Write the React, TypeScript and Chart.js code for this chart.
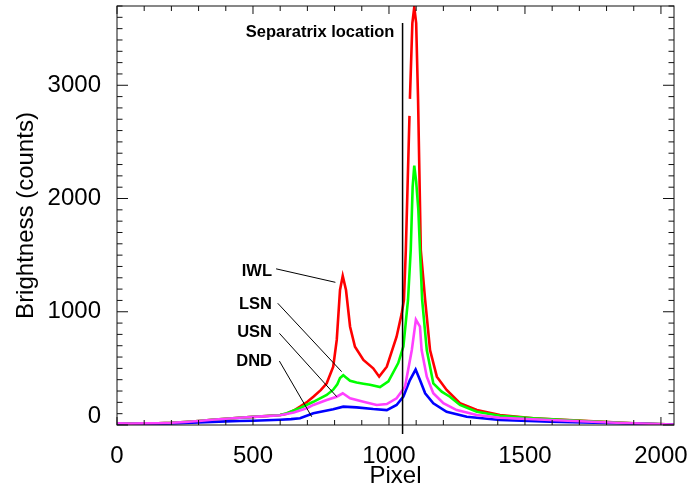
import { useEffect, useRef } from 'react';
import { Chart, registerables } from 'chart.js';

Chart.register(...registerables);

const FONT = '"Liberation Sans", Arial, Helvetica, sans-serif';

// ---- axes ----
const X_MIN = 0;
const X_MAX = 2048;
const Y_MIN = 0;
const Y_MAX = 3700;
const X_MAJOR = 500;
const X_MINOR = 100;
const Y_MAJOR = 1000;
const Y_MINOR = 100;
const xTickValues = [0, 500, 1000, 1500, 2000];
const yTickValues = [0, 1000, 2000, 3000];

// ---- series: IWL (red) ----
const iwlPixels = [0, 50, 100, 150, 200, 250, 300, 350, 400, 450, 500, 550, 600, 624, 650, 673, 700, 722, 750, 771, 795, 808, 820, 830, 842, 857, 875, 906, 942, 964, 992, 1028, 1047, 1055, 1062, 1075.4, 1076.2, 1077, 1086, 1093, 1100, 1107, 1117, 1133, 1151, 1176, 1212, 1261, 1323, 1408, 1531, 1715, 1898, 2048];
const iwlCounts = [15, 12, 14, 16, 20, 27, 36, 46, 55, 64, 72, 80, 88, 100, 128, 162, 205, 250, 310, 368, 515, 751, 1192, 1316, 1192, 868, 691, 574, 501, 427, 515, 780, 986, 1104, 1545, 2730, null, 2880, 3550, 3690, 3550, 2870, 1545, 1104, 662, 427, 309, 192, 132, 88, 59, 38, 15, 5];

// ---- series: LSN (green) ----
const lsnPixels = [0, 50, 100, 150, 200, 250, 300, 350, 400, 450, 500, 550, 600, 624, 673, 722, 771, 795, 810, 820, 832, 842, 857, 881, 906, 930, 967, 998, 1034, 1053, 1070, 1080, 1087, 1093, 1100, 1108, 1114, 1122, 1139, 1163, 1194, 1224, 1261, 1323, 1408, 1531, 1715, 1898, 2048];
const lsnCounts = [15, 12, 14, 16, 20, 27, 36, 46, 55, 64, 72, 80, 88, 104, 150, 205, 265, 312, 360, 415, 440, 420, 390, 375, 365, 355, 335, 385, 547, 694, 1104, 1545, 2100, 2290, 2150, 1900, 1545, 1104, 662, 368, 294, 250, 177, 117, 82, 59, 36, 14, 5];

// ---- series: USN (magenta) ----
const usnPixels = [0, 50, 100, 150, 200, 250, 300, 350, 400, 450, 500, 550, 600, 650, 700, 722, 771, 808, 830, 857, 906, 955, 992, 1028, 1059, 1084, 1099, 1114, 1120, 1139, 1163, 1200, 1249, 1323, 1408, 1592, 1837, 2048];
const usnCounts = [15, 12, 14, 16, 20, 27, 36, 46, 55, 64, 72, 78, 86, 110, 150, 177, 221, 250, 280, 236, 206, 177, 185, 236, 338, 662, 930, 868, 662, 427, 280, 192, 132, 88, 64, 44, 20, 5];

// ---- series: DND (blue) ----
const dndPixels = [0, 50, 100, 150, 200, 250, 300, 350, 400, 450, 500, 550, 600, 640, 673, 722, 795, 832, 881, 942, 992, 1028, 1053, 1077, 1098, 1114, 1133, 1163, 1212, 1286, 1408, 1592, 1837, 2048];
const dndCounts = [10, 9, 10, 12, 14, 18, 22, 27, 32, 35, 38, 42, 47, 52, 59, 103, 139, 162, 156, 141, 132, 177, 250, 397, 490, 397, 280, 192, 117, 73, 44, 29, 15, 5];

// ---- separatrix marker ----
const separatrixPixel = 1050;
const separatrixSpan = [3550, -80];
const separatrixText = 'Separatrix location';
const separatrixTextAnchor = [1020, 3424];

// ---- labels with leader lines ----
const labelNames = ['IWL', 'LSN', 'USN', 'DND'];
const labelAnchorX = [570, 570, 570, 570];
const labelAnchorY = [1318, 1027, 774, 518];
const leaderStartX = [585, 591, 597, 597];
const leaderStartY = [1379, 1075, 810, 565];
const leaderEndX = [803, 826, 808, 716];
const leaderEndY = [1260, 471, 250, 73];

const toPoints = (xs: number[], ys: (number | null)[]) => xs.map((x, i) => ({ x, y: ys[i] }));

const framePlugin = {
  id: 'frameAndNotes',
  afterDatasetsDraw(chart: any) {
    const { ctx, chartArea } = chart;
    const { left, right, top, bottom } = chartArea;
    const xs = chart.scales.x;
    const ys = chart.scales.y;
    ctx.save();
    ctx.strokeStyle = '#111';
    ctx.lineWidth = 1;
    ctx.strokeRect(left, top, right - left, bottom - top);
    ctx.beginPath();
    for (let v = X_MIN; v <= X_MAX; v += X_MINOR) {
      const px = xs.getPixelForValue(v);
      const len = v % X_MAJOR === 0 ? 8 : 5;
      ctx.moveTo(px, bottom);
      ctx.lineTo(px, bottom - len);
      ctx.moveTo(px, top);
      ctx.lineTo(px, top + len);
    }
    for (let v = Y_MIN; v <= Y_MAX; v += Y_MINOR) {
      const py = ys.getPixelForValue(v);
      const len = v % Y_MAJOR === 0 ? 11 : 5.5;
      ctx.moveTo(left, py);
      ctx.lineTo(left + len, py);
      ctx.moveTo(right, py);
      ctx.lineTo(right - len, py);
    }
    ctx.stroke();

    // leader lines
    ctx.strokeStyle = '#000';
    ctx.lineWidth = 1;
    ctx.beginPath();
    for (let i = 0; i < labelNames.length; i++) {
      ctx.moveTo(xs.getPixelForValue(leaderStartX[i]), ys.getPixelForValue(leaderStartY[i]));
      ctx.lineTo(xs.getPixelForValue(leaderEndX[i]), ys.getPixelForValue(leaderEndY[i]));
    }
    ctx.stroke();

    ctx.fillStyle = '#000';
    ctx.font = 'bold 16.5px ' + FONT;
    ctx.textAlign = 'right';
    ctx.textBaseline = 'alphabetic';
    for (let i = 0; i < labelNames.length; i++) {
      ctx.fillText(labelNames[i], xs.getPixelForValue(labelAnchorX[i]), ys.getPixelForValue(labelAnchorY[i]));
    }
    ctx.fillText(separatrixText, xs.getPixelForValue(separatrixTextAnchor[0]), ys.getPixelForValue(separatrixTextAnchor[1]));
    ctx.restore();
  },
};

export default function App() {
  const ref = useRef<HTMLCanvasElement>(null);
  useEffect(() => {
    document.body.style.margin = '0';
    const line = (data: any[], color: string) => ({
      data,
      borderColor: color,
      backgroundColor: color,
      borderWidth: 2.6,
      pointRadius: 0,
      fill: false,
      spanGaps: false,
      tension: 0,
    });
    const chart = new Chart(ref.current!, {
      type: 'line',
      data: {
        datasets: [
          {
            data: [
              { x: separatrixPixel, y: separatrixSpan[0] },
              { x: separatrixPixel, y: separatrixSpan[1] },
            ],
            borderColor: '#000',
            borderWidth: 1.5,
            pointRadius: 0,
            clip: false,
          } as any,
          line(toPoints(usnPixels, usnCounts), '#ff40ff'),
          line(toPoints(dndPixels, dndCounts), '#0000ff'),
          line(toPoints(lsnPixels, lsnCounts), '#00ff00'),
          line(toPoints(iwlPixels, iwlCounts), '#ff0000'),
        ],
      },
      options: {
        animation: false,
        responsive: false,
        devicePixelRatio: 1,
        layout: { padding: { top: 6, right: 19, left: 0, bottom: 0 } },
        plugins: { legend: { display: false }, tooltip: { enabled: false } },
        scales: {
          x: {
            type: 'linear',
            min: X_MIN,
            max: X_MAX,
            grid: { display: false },
            border: { display: false },
            afterBuildTicks: (s: any) => {
              s.ticks = xTickValues.map((value) => ({ value }));
            },
            ticks: {
              autoSkip: false,
              maxRotation: 0,
              padding: 9,
              color: '#000',
              font: { family: FONT, size: 24 },
              callback: (v: any) => String(v),
            },
            title: {
              display: true,
              text: 'Pixel',
              color: '#000',
              font: { family: FONT, size: 24 },
              padding: { top: 0, bottom: 2 },
            },
            afterFit: (s: any) => {
              s.height = 68;
              s.paddingLeft = 0;
              s.paddingRight = 0;
            },
          },
          y: {
            type: 'linear',
            min: Y_MIN,
            max: Y_MAX,
            grid: { display: false },
            border: { display: false },
            afterBuildTicks: (s: any) => {
              s.ticks = yTickValues.map((value) => ({ value }));
            },
            ticks: {
              autoSkip: false,
              padding: 8,
              color: '#000',
              font: (c: any) => ({
                family: FONT,
                size: 24,
                lineHeight: c.tick && c.tick.value === 0 ? 0.75 : 1.2,
              }),
              callback: (v: any) => (v === 0 ? ['0', ''] : String(v)),
            },
            title: {
              display: true,
              text: 'Brightness (counts)',
              color: '#000',
              font: { family: FONT, size: 24 },
              padding: { top: 12, bottom: 0 },
            },
            afterFit: (s: any) => {
              s.width = 117;
              s.paddingTop = 0;
              s.paddingBottom = 0;
            },
          },
        },
      } as any,
      plugins: [framePlugin],
    });
    return () => chart.destroy();
  }, []);
  return <canvas ref={ref} width={693} height={493} style={{ display: 'block' }} />;
}
